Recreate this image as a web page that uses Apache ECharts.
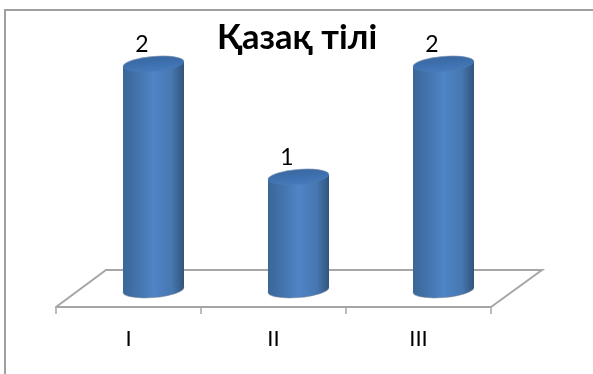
<!DOCTYPE html>
<html><head><meta charset="utf-8">
<style>html,body{margin:0;padding:0;background:#fff}#c{width:593px;height:374px}</style>
<script src="https://cdn.jsdelivr.net/npm/echarts@6/dist/echarts.min.js"></script>
</head><body><div id="c"></div>
<script>
const chartTitle = 'Қазақ тілі';
const categories = ['I', 'II', 'III'];
const values = [2, 1, 2];

const FONT = 'Lato, "Open Sans", sans-serif';
const DEPTH_X = 25, DEPTH_Y = 17, RX = 30.5, RY = 7.5, TILT = 0.085;
const GREY = '#a6a6a6';

const bodyGrad = {type:'linear',x:0,y:0,x2:1,y2:0,colorStops:[
  {offset:0,color:'#3a6698'},{offset:0.25,color:'#4474ad'},{offset:0.5,color:'#4f84c6'},
  {offset:0.8,color:'#4677b0'},{offset:1,color:'#31547e'}]};
const topGrad = {type:'linear',x:0,y:0,x2:0,y2:1,colorStops:[
  {offset:0,color:'#3a689f'},{offset:0.55,color:'#3d71b0'},{offset:1,color:'#477cbc'}]};
const rimGrad = {type:'linear',x:0,y:0,x2:0,y2:1,colorStops:[
  {offset:0,color:'rgba(125,150,185,0.75)'},{offset:0.5,color:'rgba(100,135,180,0.3)'},{offset:1,color:'rgba(80,130,195,0)'}]};

const chart = echarts.init(document.getElementById('c'), null, {renderer:'canvas'});
chart.setOption({
  animation:false,
  backgroundColor:'#fff',
  title:{text:chartTitle,left:217,top:20,textStyle:{fontFamily:FONT,fontWeight:'bold',fontSize:34.5,color:'#000'},padding:0},
  grid:{left:56,right:102,top:81,bottom:67},
  xAxis:{type:'category',data:categories,
    axisLine:{lineStyle:{color:GREY,width:2}},
    axisTick:{show:true,alignWithLabel:false,length:7,lineStyle:{color:GREY,width:1.5}},
    axisLabel:{fontFamily:FONT,fontSize:22,color:'#000',margin:21}},
  yAxis:{type:'value',min:0,max:2,interval:1,show:false,splitLine:{show:false}},
  graphic:[{type:'rect',silent:true,z:-1,shape:{x:5,y:10,width:700,height:500},style:{fill:'none',stroke:'#a0a0a0',lineWidth:2}}],
  series:[
    {type:'custom',z:1,silent:true,data:[[0]],
      renderItem(p,api){
        const band=api.size([1,0])[0];
        const a=api.coord([0,0]), c=api.coord([2,0]);
        const L=a[0]-band/2,R=c[0]+band/2,Y=a[1];
        return {type:'polyline',shape:{points:[[L,Y],[L+50,Y-37],[R+51,Y-37],[R,Y]]},style:{fill:'none',stroke:GREY,lineWidth:2}};
      }},
    {type:'custom',z:2,silent:true,
      encode:{x:0,y:1},
      data:categories.map((c,i)=>[i,values[i]]),
      renderItem(p,api){
        const base=api.coord([api.value(0),0]), tip=api.coord([api.value(0),api.value(1)]);
        const cx=base[0]+DEPTH_X, by=base[1]-DEPTH_Y, ty=tip[1]-DEPTH_Y;
        const d=RX*TILT, l=cx-RX, r=cx+RX;
        const ell=(y,fill,stroke)=>({type:'ellipse',x:cx,y:y,rotation:TILT,
          shape:{cx:0,cy:0,rx:RX,ry:RY},style:{fill:fill,stroke:stroke||null,lineWidth:stroke?1:0}});
        return {type:'group',children:[
          ell(by,bodyGrad,'rgba(120,130,145,0.5)'),
          {type:'polygon',shape:{points:[[l,ty+d],[r,ty-d],[r,by-d],[l,by+d]]},style:{fill:bodyGrad}},
          ell(ty,topGrad,rimGrad),
          {type:'text',x:cx-11.5,y:ty-19,style:{text:String(api.value(1)),fontFamily:FONT,fontSize:23,fill:'#000',align:'center',verticalAlign:'middle'}}
        ]};
      }}
  ]
});
</script></body></html>
